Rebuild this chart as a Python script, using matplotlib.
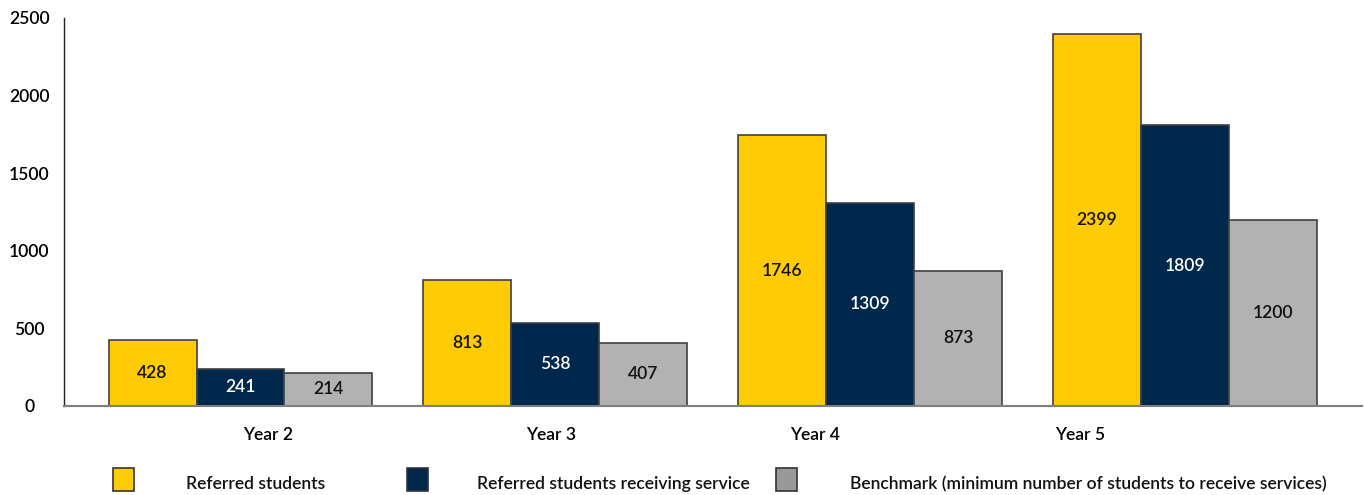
import matplotlib
matplotlib.use("Agg")
import matplotlib.pyplot as plt
from matplotlib.patches import Rectangle
import numpy as np

plt.rcParams['font.family'] = ['Lato', 'DejaVu Sans']

years = ["Year 2", "Year 3", "Year 4", "Year 5"]
referred = [428, 813, 1746, 2399]
receiving = [241, 538, 1309, 1809]
benchmark = [214, 407, 873, 1200]
series_names = ["Referred students", "Referred students receiving service",
                "Benchmark (minimum number of students to receive services)"]
colors = ["#FFCB05", "#00274C", "#B2B2B2"]
legend_colors = ["#FFCB05", "#00274C", "#999999"]
text_colors = ["#111111", "#FFFFFF", "#111111"]
yticks = [0, 500, 1000, 1500, 2000, 2500]
tick_label_pos = [0.087, 0.986, 1.825, 2.667]

FS = 12.6
W, H = 1364, 495
fig = plt.figure(figsize=(W / 100, H / 100), dpi=100)
ax = fig.add_axes([64 / W, (H - 406) / H, (1362 - 64) / W, (406 - 18) / H])

x = np.arange(len(years))
width = 0.2795
for i, (vals, c, tc) in enumerate(zip([referred, receiving, benchmark], colors, text_colors)):
    bars = ax.bar(x + (i - 1) * width, vals, width, color=c, edgecolor="#404040", linewidth=1.2, zorder=2)
    for b, v in zip(bars, vals):
        ax.text(b.get_x() + b.get_width() / 2, v / 2, str(v), ha="center", va="center",
                fontsize=FS, color=tc, fontweight="semibold")

ax.set_xlim(-0.5607, 3.5626)
ax.set_ylim(0, 2500)
ax.set_yticks(yticks)
ax.set_yticklabels([str(t) for t in yticks], fontsize=FS, fontweight="semibold")
ax.set_xticks(tick_label_pos)
ax.set_xticklabels(years, fontsize=FS, fontweight="semibold")
ax.tick_params(axis="both", length=0)
ax.tick_params(axis="x", pad=15)
ax.tick_params(axis="y", pad=25)
for lbl in ax.get_yticklabels():
    lbl.set_horizontalalignment("center")
for s in ["top", "right"]:
    ax.spines[s].set_visible(False)
ax.spines["left"].set_color("#222222")
ax.spines["bottom"].set_color("#7f7f7f")
ax.spines["left"].set_linewidth(1)
ax.spines["bottom"].set_linewidth(1.5)

# legend
sq_x = [113, 407, 776]
txt_x = [186, 477, 850]
for sx, tx, c, name in zip(sq_x, txt_x, legend_colors, series_names):
    fig.patches.append(Rectangle((sx / W, (H - 491) / H), 21 / W, 23 / H,
                                 transform=fig.transFigure, facecolor=c,
                                 edgecolor="#333333", linewidth=1.2))
    fig.text(tx / W, (H - 484) / H, name, ha="left", va="center", fontsize=FS,
             fontweight="semibold", color="#111111")

fig.savefig("out.png", dpi=100)
